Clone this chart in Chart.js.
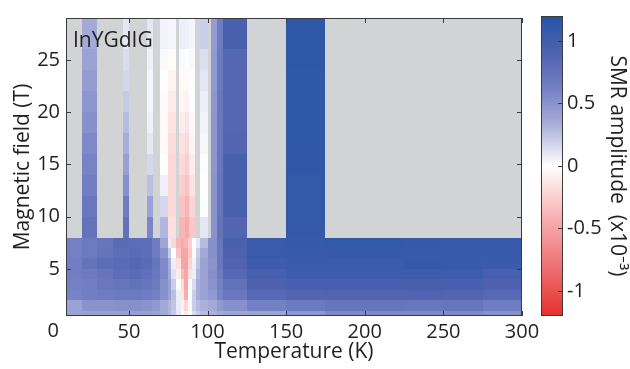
<!DOCTYPE html>
<html>
<head>
<meta charset="utf-8">
<script src="https://cdn.jsdelivr.net/npm/chart.js@4.4.1/dist/chart.umd.min.js"></script>
<style>
  html, body { margin: 0; padding: 0; background: #fff; }
  #wrap { position: relative; width: 630px; height: 369px; }
  #wrap canvas { position: absolute; left: 0; top: 0; }
</style>
</head>
<body>
<div id="wrap">
  <canvas id="map" width="630" height="369"></canvas>
  <canvas id="bar" width="630" height="369"></canvas>
</div>
<script>
// Axis ticks
var tempTicks = [50, 100, 150, 200, 250, 300];
var fieldTicks = [5, 10, 15, 20, 25];
var cbTicks = [-1, -0.5, 0, 0.5, 1];
var cbTickLabels = ['-1', '-0.5', '0', '0.5', '1'];

// Low field map (0.5 - 8 T), measured at every temperature
var lowTempEdges = [10, 20, 30, 40, 50, 57.5, 65, 70, 75, 77, 80, 83, 85, 87.5, 90, 92.5, 95, 100, 106, 110, 125, 150, 175, 225, 250, 275, 300];
var lowFieldEdges = [0.5, 1, 2, 3, 4, 5, 6, 7, 8];
// one row per field bin, from 0.5-1 T upwards
var lowSMR = [
  [0.40, 0.42, 0.42, 0.42, 0.42, 0.42, 0.40, 0.36, 0.30, 0.22, 0.10, -0.04, -0.12, 0.02, 0.14, 0.22, 0.28, 0.32, 0.36, 0.38, 0.40, 0.48, 0.56, 0.56, 0.56, 0.52],
  [0.40, 0.50, 0.50, 0.52, 0.52, 0.50, 0.46, 0.36, 0.30, 0.24, 0.08, -0.08, -0.22, 0.03, 0.20, 0.28, 0.32, 0.36, 0.46, 0.52, 0.62, 0.68, 0.72, 0.71, 0.72, 0.66],
  [0.60, 0.64, 0.66, 0.68, 0.68, 0.66, 0.62, 0.52, 0.40, 0.26, 0.07, -0.12, -0.44, 0.00, 0.20, 0.34, 0.40, 0.46, 0.60, 0.70, 0.84, 0.88, 0.89, 0.89, 0.88, 0.84],
  [0.62, 0.64, 0.70, 0.72, 0.75, 0.72, 0.68, 0.52, 0.40, 0.20, 0.01, -0.20, -0.48, -0.04, 0.14, 0.34, 0.40, 0.50, 0.62, 0.76, 0.92, 0.96, 0.96, 0.97, 0.96, 0.92],
  [0.64, 0.68, 0.72, 0.80, 0.82, 0.78, 0.70, 0.56, 0.36, 0.12, -0.10, -0.36, -0.48, -0.16, 0.07, 0.30, 0.40, 0.52, 0.67, 0.85, 0.96, 1.02, 1.03, 1.03, 1.03, 0.96],
  [0.64, 0.74, 0.80, 0.82, 0.86, 0.82, 0.72, 0.56, 0.34, 0.07, -0.16, -0.48, -0.50, -0.22, 0.05, 0.24, 0.40, 0.50, 0.70, 0.90, 1.02, 1.05, 1.06, 1.08, 1.07, 1.05],
  [0.62, 0.68, 0.74, 0.80, 0.82, 0.80, 0.66, 0.50, 0.22, 0.00, -0.32, -0.50, -0.48, -0.28, 0.02, 0.20, 0.36, 0.52, 0.70, 0.92, 1.05, 1.07, 1.08, 1.07, 1.07, 1.07],
  [0.62, 0.68, 0.72, 0.82, 0.80, 0.80, 0.66, 0.38, 0.08, -0.20, -0.40, -0.45, -0.40, -0.25, 0.00, 0.10, 0.28, 0.52, 0.72, 0.95, 1.05, 1.08, 1.10, 1.08, 1.07, 1.07]
];

// High field map (8 - 29 T), only at some temperatures
var highFieldEdges = [8, 10, 12, 14, 16, 18, 20, 22, 24, 26, 29];
var highTempBins = [[20, 30], [46, 50], [61.5, 65.3], [70, 75], [75, 80.2], [82, 85.5], [85.5, 88.2], [88.2, 92], [95, 100.3], [102.5, 106], [106, 109.7], [109.7, 125], [150, 175]];
// one list per temperature bin, from 8-10 T upwards
var highSMR = [
  [0.74, 0.70, 0.64, 0.60, 0.56, 0.52, 0.48, 0.44, 0.40, 0.35],
  [0.76, 0.66, 0.52, 0.42, 0.34, 0.28, 0.22, 0.17, 0.14, 0.10],
  [0.58, 0.40, 0.26, 0.16, 0.10, 0.06, 0.04, 0.04, 0.06, 0.10],
  [0.30, 0.16, 0.06, 0.00, -0.03, -0.03, -0.02, 0.00, 0.02, 0.05],
  [-0.16, -0.20, -0.20, -0.20, -0.18, -0.14, -0.10, -0.06, -0.02, 0.04],
  [-0.40, -0.32, -0.26, -0.20, -0.15, -0.10, -0.05, -0.02, 0.02, 0.07],
  [-0.46, -0.40, -0.32, -0.26, -0.20, -0.14, -0.08, -0.03, 0.01, 0.06],
  [-0.30, -0.22, -0.14, -0.10, -0.06, -0.03, 0.00, 0.01, 0.02, 0.04],
  [0.10, 0.01, 0.00, 0.01, 0.03, 0.05, 0.07, 0.10, 0.13, 0.20],
  [0.50, 0.50, 0.50, 0.48, 0.48, 0.48, 0.47, 0.46, 0.46, 0.44],
  [0.74, 0.72, 0.72, 0.70, 0.70, 0.70, 0.70, 0.68, 0.68, 0.66],
  [0.88, 0.95, 0.95, 0.95, 0.88, 0.86, 0.86, 0.86, 0.86, 0.95],
  [1.10, 1.10, 1.10, 1.11, 1.12, 1.12, 1.12, 1.12, 1.14, 1.14]
];

var FONT = "'Open Sans', 'Noto Sans', sans-serif";
var TEXT = '#231f20';
var missingColor = '#d1d3d4';

// red - white - blue colour map, value -> rgb
var cmap = [
  [-1.2, [229, 48, 47]],
  [-0.5, [245, 163, 165]],
  [-0.25, [251, 207, 207]],
  [0, [255, 255, 255]],
  [0.35, [164, 170, 216]],
  [0.62, [116, 128, 196]],
  [0.9, [80, 98, 176]],
  [1.2, [36, 84, 165]]
];

function smrColor(v) {
  if (v <= cmap[0][0]) return 'rgb(' + cmap[0][1].join(',') + ')';
  for (var i = 1; i < cmap.length; i++) {
    if (v <= cmap[i][0]) {
      var a = cmap[i - 1], b = cmap[i];
      var t = (v - a[0]) / (b[0] - a[0]);
      var c = a[1].map(function(ch, k) { return Math.round(ch + (b[1][k] - ch) * t); });
      return 'rgb(' + c.join(',') + ')';
    }
  }
  return 'rgb(' + cmap[cmap.length - 1][1].join(',') + ')';
}

function fixTicks(values) {
  return function(scale) {
    scale.ticks = values.map(function(v) { return { value: v }; });
  };
}

// draws the map cells through the chart scales
var heatmapPlugin = {
  id: 'heatmap',
  beforeDatasetsDraw: function(chart) {
    var ctx = chart.ctx, a = chart.chartArea, x = chart.scales.x, y = chart.scales.y;
    ctx.save();
    ctx.beginPath();
    ctx.rect(a.left, a.top, a.right - a.left, a.bottom - a.top);
    ctx.clip();
    ctx.fillStyle = missingColor;
    ctx.fillRect(a.left, a.top, a.right - a.left, a.bottom - a.top);

    var cell = function(t0, t1, b0, b1, v) {
      var x0 = Math.round(x.getPixelForValue(t0)), x1 = Math.round(x.getPixelForValue(t1));
      var y0 = Math.round(y.getPixelForValue(b1)), y1 = Math.round(y.getPixelForValue(b0));
      ctx.fillStyle = smrColor(v);
      ctx.fillRect(x0, y0, x1 - x0, y1 - y0);
    };
    lowSMR.forEach(function(row, i) {
      row.forEach(function(v, j) {
        cell(lowTempEdges[j], lowTempEdges[j + 1], lowFieldEdges[i], lowFieldEdges[i + 1], v);
      });
    });
    highTempBins.forEach(function(bin, j) {
      highSMR[j].forEach(function(v, i) {
        cell(bin[0], bin[1], highFieldEdges[i], highFieldEdges[i + 1], v);
      });
    });
    ctx.restore();
  }
};

// box frame with inward ticks (matlab style)
var framePlugin = {
  id: 'frame',
  afterDraw: function(chart, args, opts) {
    var ctx = chart.ctx, a = chart.chartArea;
    var L = 5;
    ctx.save();
    ctx.strokeStyle = '#3b3b3b';
    ctx.lineWidth = 1;
    ctx.beginPath();
    if (opts.xTicks) {
      opts.xTicks.forEach(function(v) {
        var px = Math.round(chart.scales.x.getPixelForValue(v)) + 0.5;
        ctx.moveTo(px, a.bottom); ctx.lineTo(px, a.bottom - L);
        ctx.moveTo(px, a.top); ctx.lineTo(px, a.top + L);
      });
    }
    if (opts.yTicks) {
      opts.yTicks.forEach(function(v) {
        var py = Math.round(chart.scales.y.getPixelForValue(v)) + 0.5;
        if (opts.leftTicks) { ctx.moveTo(a.left, py); ctx.lineTo(a.left + L, py); }
        ctx.moveTo(a.right, py); ctx.lineTo(a.right - L, py);
      });
    }
    ctx.stroke();
    ctx.strokeRect(Math.round(a.left) + 0.5, Math.round(a.top) + 0.5,
      Math.round(a.right - a.left) - 1, Math.round(a.bottom - a.top) - 1);

    if (opts.extra) {
      ctx.fillStyle = TEXT;
      ctx.textAlign = 'left';
      ctx.textBaseline = 'alphabetic';
      ctx.font = '21px ' + FONT;
      ctx.fillText('InYGdIG', a.left + 7, a.top + 29);
      // shared origin label
      ctx.font = '20px ' + FONT;
      ctx.textAlign = 'center';
      ctx.textBaseline = 'middle';
      ctx.fillText('0', chart.scales.x.getPixelForValue(0) + 3, a.bottom + 15);
    }
    ctx.restore();
  }
};

new Chart(document.getElementById('map'), {
  type: 'scatter',
  data: { datasets: [] },
  plugins: [heatmapPlugin, framePlugin],
  options: {
    responsive: false,
    animation: false,
    layout: { padding: { left: 0, top: 7, right: 108, bottom: 0 } },
    plugins: {
      legend: { display: false },
      tooltip: { enabled: false },
      frame: { xTicks: tempTicks, yTicks: fieldTicks, leftTicks: true, extra: true }
    },
    scales: {
      x: {
        type: 'linear', min: 10, max: 300,
        afterBuildTicks: fixTicks(tempTicks),
        afterFit: function(s) { s.height = 53; },
        grid: { display: false, drawTicks: false },
        border: { display: false },
        ticks: { color: TEXT, font: { family: FONT, size: 20 }, padding: 4, maxRotation: 0 },
        title: { display: true, text: 'Temperature (K)', color: TEXT, font: { family: FONT, size: 21 }, padding: { top: 0, bottom: 4 } }
      },
      y: {
        type: 'linear', min: 0.5, max: 29,
        afterBuildTicks: fixTicks(fieldTicks),
        afterFit: function(s) { s.width = 66; },
        grid: { display: false, drawTicks: false },
        border: { display: false },
        ticks: { color: TEXT, font: { family: FONT, size: 20 }, padding: 6 },
        title: { display: true, text: 'Magnetic field (T)', color: TEXT, font: { family: FONT, size: 21 }, padding: { top: 10, bottom: 0 } }
      }
    }
  }
});

// colour bar
var colorbarPlugin = {
  id: 'colorbar',
  beforeDatasetsDraw: function(chart) {
    var ctx = chart.ctx, a = chart.chartArea, y = chart.scales.y;
    var g = ctx.createLinearGradient(0, y.getPixelForValue(y.min), 0, y.getPixelForValue(y.max));
    cmap.forEach(function(s) {
      var t = (s[0] - y.min) / (y.max - y.min);
      g.addColorStop(t, 'rgb(' + s[1].join(',') + ')');
    });
    ctx.save();
    ctx.fillStyle = g;
    ctx.fillRect(a.left, a.top, a.right - a.left, a.bottom - a.top);
    ctx.restore();
  }
};

new Chart(document.getElementById('bar'), {
  type: 'scatter',
  data: { datasets: [] },
  plugins: [colorbarPlugin, framePlugin],
  options: {
    responsive: false,
    animation: false,
    layout: { padding: { left: 541, top: 6, right: 0, bottom: 53 } },
    plugins: {
      legend: { display: false },
      tooltip: { enabled: false },
      frame: { yTicks: cbTicks, leftTicks: false, extra: false }
    },
    scales: {
      x: { type: 'linear', display: false, min: 0, max: 1 },
      y: {
        type: 'linear', position: 'right', min: -1.2, max: 1.2,
        afterBuildTicks: fixTicks(cbTicks),
        afterFit: function(s) { s.width = 67; },
        grid: { display: false, drawTicks: false },
        border: { display: false },
        ticks: {
          color: TEXT, font: { family: FONT, size: 20 }, padding: 4,
          callback: function(v) { return cbTickLabels[cbTicks.indexOf(v)]; }
        },
        title: { display: true, text: 'SMR amplitude  (x10⁻³)', color: TEXT, font: { family: FONT, size: 21 }, padding: { top: 0, bottom: 0 } }
      }
    }
  }
});
</script>
</body>
</html>
